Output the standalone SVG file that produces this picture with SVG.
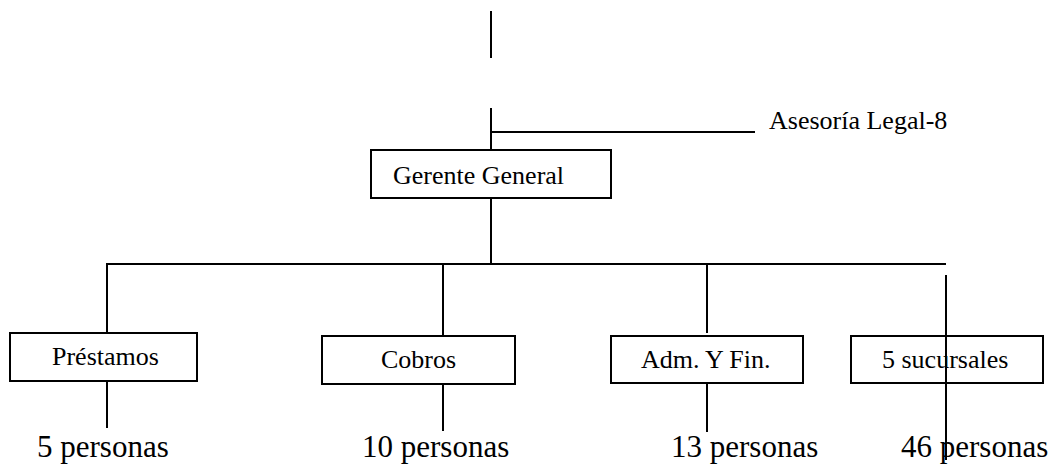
<svg xmlns="http://www.w3.org/2000/svg" width="1054" height="465" viewBox="0 0 1054 465">
<style>
.ln{stroke:#000;stroke-width:2;fill:none}
.box{fill:#fff;stroke:#000;stroke-width:2}
text{font-family:'Liberation Serif','Times New Roman',serif;fill:#000}
.t{font-size:26px}
.b{font-size:31px}
</style>
<g id="connectors">
<line class="ln" x1="491" y1="11" x2="491" y2="58"/>
<line class="ln" x1="491" y1="108" x2="491" y2="155"/>
<line class="ln" x1="491" y1="132" x2="755" y2="132"/>
<line class="ln" x1="491" y1="198" x2="491" y2="264"/>
<line class="ln" x1="106" y1="264" x2="946" y2="264"/>
<line class="ln" x1="107" y1="264" x2="107" y2="336"/>
<line class="ln" x1="443" y1="264" x2="443" y2="336"/>
<line class="ln" x1="707" y1="264" x2="707" y2="333"/>
<line class="ln" x1="107" y1="381" x2="107" y2="428"/>
<line class="ln" x1="443" y1="384" x2="443" y2="431"/>
<line class="ln" x1="707" y1="383" x2="707" y2="432"/>
</g>
<g id="asesoria"><text class="t" x="769" y="129">Asesoría Legal-8</text></g>
<g id="gerente"><rect class="box" x="371" y="150" width="240" height="48"/><text class="t" x="393" y="184">Gerente General</text></g>
<g id="prestamos"><rect class="box" x="10" y="333" width="187" height="48"/><text class="t" x="52" y="365">Préstamos</text></g>
<g id="cobros"><rect class="box" x="322" y="336" width="193" height="48"/><text class="t" x="381" y="368">Cobros</text></g>
<g id="adm"><rect class="box" x="611" y="336" width="192" height="47"/><text class="t" x="641" y="368">Adm. Y Fin.</text></g>
<g id="sucursales"><rect class="box" x="851" y="336" width="192" height="47"/><text class="t" x="882" y="368">5 sucursales</text></g>
<g id="connectors2"><line class="ln" x1="946" y1="275" x2="946" y2="460"/></g>
<g id="personas">
<text class="b" x="37" y="457">5 personas</text>
<text class="b" x="362" y="457">10 personas</text>
<text class="b" x="671" y="457">13 personas</text>
<text class="b" x="901" y="457">46 personas</text>
</g>
</svg>
